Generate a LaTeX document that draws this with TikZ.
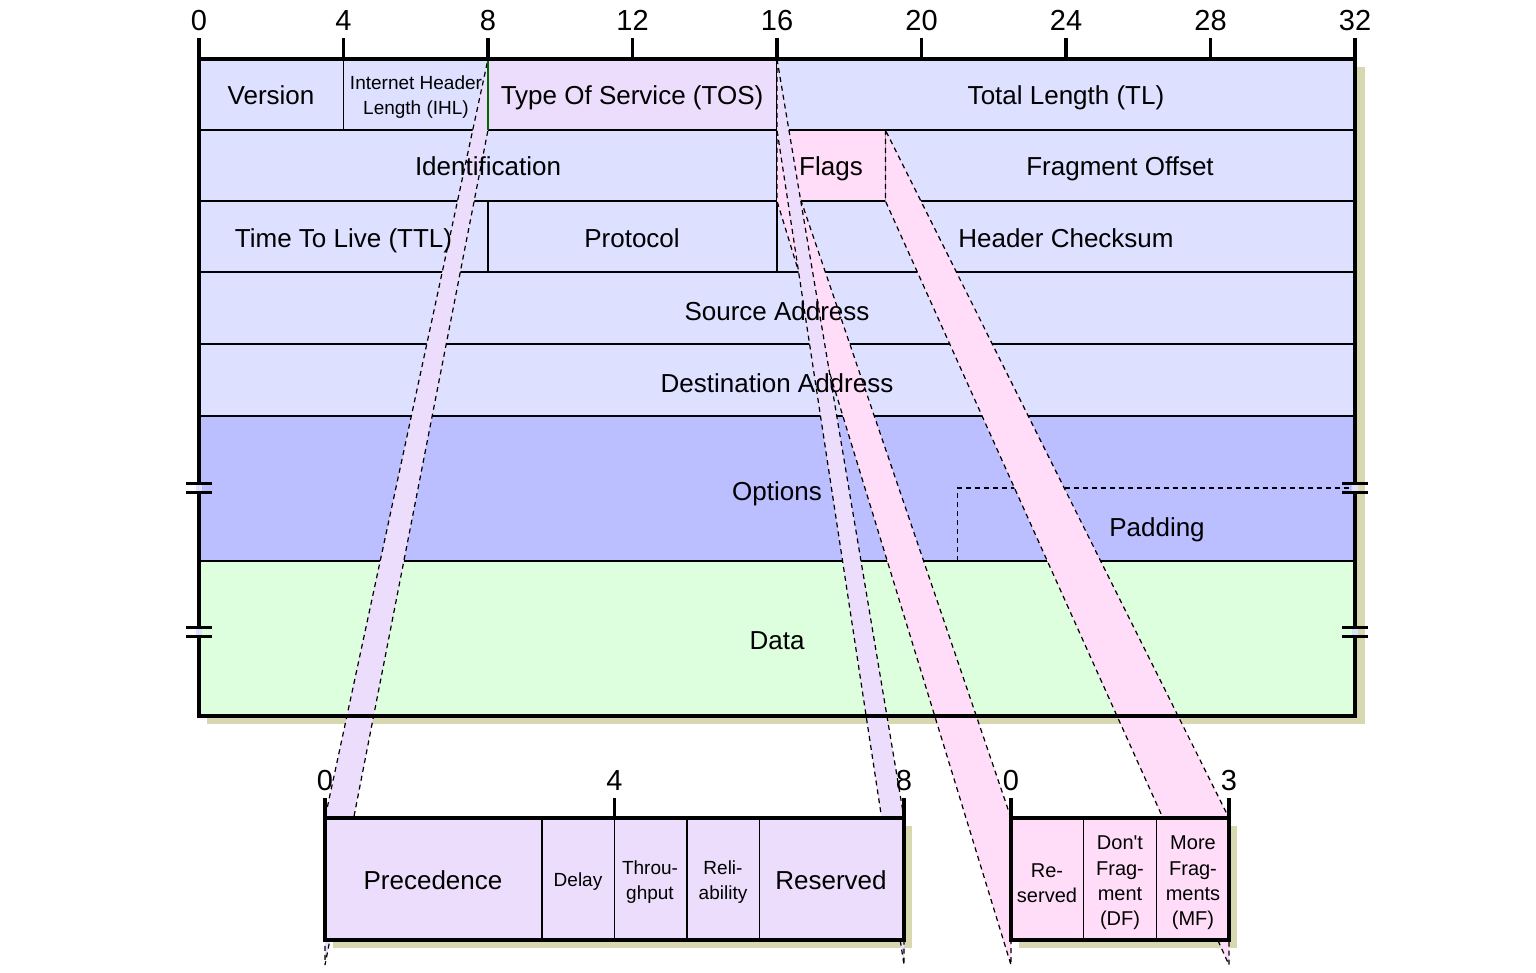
\documentclass[tikz,border=0pt]{standalone}
\usepackage{fontspec}
\setmainfont{Liberation Sans}
\usepackage{tikz}

\definecolor{fieldblue}{HTML}{DDE0FF}
\definecolor{optblue}{HTML}{BBBEFF}
\definecolor{datagreen}{HTML}{DDFFDD}
\definecolor{tospurple}{HTML}{EBDDFB}
\definecolor{flagpink}{HTML}{FFDDF8}
\definecolor{shadowkhaki}{HTML}{D8D8B0}

\tikzset{
    cell/.style={draw=black, line width=0.7pt},
    frame/.style={draw=black, line width=1.6pt},
    band/.style={draw=black, dash pattern=on 2.5pt off 2pt, line width=0.6pt},
    lbl/.style={font=\fontsize{13}{15}\selectfont, inner sep=0pt, text height=0.72em, text depth=0pt, yshift=-1pt},
    smalllbl/.style={font=\fontsize{9.5}{12.6}\selectfont, align=center, inner sep=0pt, yshift=-1pt},
    flaglbl/.style={font=\fontsize{10}{12.7}\selectfont, align=center, inner sep=0pt, yshift=-1.5pt},
    bitnum/.style={font=\fontsize{14.5}{16}\selectfont, inner sep=0pt, text height=0.72em, text depth=0pt, yshift=-1.5pt},
}

\begin{document}
\begin{tikzpicture}[x=0.5pt, y=-0.5pt]
    \useasboundingbox (0,0) rectangle (1536,973);

    \fill[shadowkhaki] (207,67) rectangle (1365,724);
    \fill[shadowkhaki] (333,826) rectangle (912,948);
    \fill[shadowkhaki] (1019,826) rectangle (1237,948);

    \fill[fieldblue] (199,59) rectangle (1355,416);
    \fill[tospurple] (488,59) rectangle (777,130);
    \fill[flagpink] (777,130) rectangle (885.4,201);
    \fill[optblue] (199,416) rectangle (1355,561);
    \fill[datagreen] (199,561) rectangle (1355,716);

    \foreach \y in {130,201,272,344,416,561}
        \draw[cell] (199,\y) -- (1355,\y);
    \draw[cell] (343.5,59) -- (343.5,130);
    \draw[cell] (777,59) -- (777,130);
    \draw[cell] (777,130) -- (777,272);
    \draw[cell] (885.4,130) -- (885.4,201);
    \draw[cell] (488,201) -- (488,272);
    \draw[band] (957.6,561) -- (957.6,488) -- (1355,488);

    \filldraw[band, fill=flagpink] (777,130) -- (777,201) -- (1011,965) -- (1011,818) -- cycle;
    \filldraw[band, fill=flagpink] (885.4,130) -- (885.4,201) -- (1229,965) -- (1229,818) -- cycle;
    \filldraw[band, fill=tospurple] (488,59) -- (488,130) -- (325,965) -- (325,818) -- cycle;
    \filldraw[band, fill=tospurple] (777,59) -- (777,130) -- (904,965) -- (904,818) -- cycle;
    \draw[green!40!black, line width=0.6pt] (488,59) -- (488,130);

    \node[lbl] (ver) at (271,95) {Version};
    \node[smalllbl] (ihl) at (416,95) {Internet Header\\Length (IHL)};
    \node[lbl] (tos) at (632,95) {Type Of Service (TOS)};
    \node[lbl] (tl) at (1066,95) {Total Length (TL)};
    \node[lbl] (ident) at (488,166) {Identification};
    \node[lbl] (flags) at (831,166) {Flags};
    \node[lbl] (fragoff) at (1120,166) {Fragment Offset};
    \node[lbl] (ttl) at (343.5,238) {Time To Live (TTL)};
    \node[lbl] (proto) at (632,238) {Protocol};
    \node[lbl] (hcs) at (1066,238) {Header Checksum};
    \node[lbl] (src) at (777,311) {Source Address};
    \node[lbl] (dst) at (777,383) {Destination Address};
    \node[lbl] (opts) at (777,491) {Options};
    \node[lbl] (pad) at (1157,527) {Padding};
    \node[lbl] (data) at (777,640) {Data};

    \draw[frame] (199,59) rectangle (1355,716);
    \foreach \n in {0,4,...,32} {
        \draw[frame] ({199+36.125*\n},59) -- ({199+36.125*\n},38);
        \node[bitnum] (t\n) at ({199+36.125*\n},20) {\n};
    }
    \foreach \xb in {199,1355}
        \foreach \yb in {488,632} {
            \fill[fieldblue] (\xb-3,\yb-4) rectangle (\xb+3,\yb+4);
            \draw[frame] (\xb-13,\yb-4.5) -- (\xb+13,\yb-4.5);
            \draw[frame] (\xb-13,\yb+4.5) -- (\xb+13,\yb+4.5);
        }

    \fill[tospurple] (325,818) rectangle (904,940);
    \foreach \x in {542.1,614.5,686.9,759.3}
        \draw[cell] (\x,818) -- (\x,940);
    \draw[frame] (325,818) rectangle (904,940);
    \foreach \n/\x in {0/325,4/614.5,8/904} {
        \draw[frame] (\x,818) -- (\x,798);
        \node[bitnum] (s\n) at (\x,780) {\n};
    }
    \node[lbl] (prec) at (433,880) {Precedence};
    \node[smalllbl] (delay) at (578,880) {Delay};
    \node[smalllbl] (thru) at (650,880) {Throu-\\ghput};
    \node[smalllbl] (reli) at (723,880) {Reli-\\ability};
    \node[lbl] (tosres) at (831,880) {Reserved};

    \fill[flagpink] (1011,818) rectangle (1229,940);
    \foreach \x in {1083.7,1156.3}
        \draw[cell] (\x,818) -- (\x,940);
    \draw[frame] (1011,818) rectangle (1229,940);
    \foreach \n/\x in {0/1011,3/1229} {
        \draw[frame] (\x,818) -- (\x,798);
        \node[bitnum] (f\n) at (\x,780) {\n};
    }
    \node[flaglbl] (fres) at (1047,880) {Re-\\served};
    \node[flaglbl] (df) at (1120,880) {Don\textquotesingle t\\Frag-\\ment\\(DF)};
    \node[flaglbl] (mf) at (1193,880) {More\\Frag-\\ments\\(MF)};
\end{tikzpicture}
\end{document}
